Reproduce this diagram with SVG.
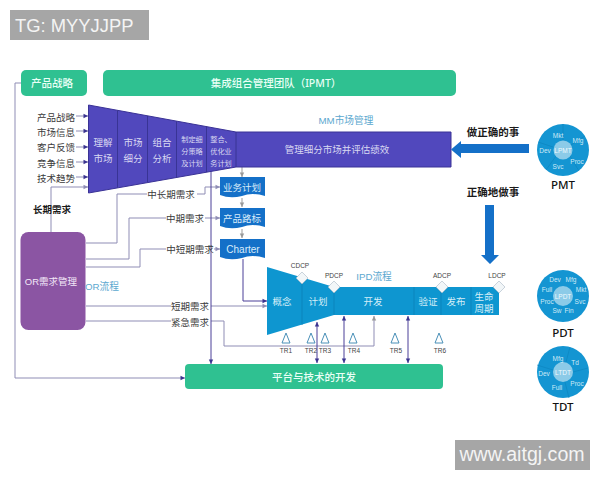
<svg xmlns="http://www.w3.org/2000/svg" width="600" height="480" viewBox="0 0 600 480">
<style>
text{font-family:"Liberation Sans","Noto Sans CJK SC",sans-serif;text-anchor:middle;dominant-baseline:central}
.g{fill:#2fc191}
.gt{fill:#eafff6;font-size:10.5px;font-weight:500;font-family:"Noto Sans","Noto Sans CJK SC",sans-serif}
.w{fill:#d9d9f2}
.l{fill:#3a3a3a;font-size:9.500px}
.w10{font-size:9.500px}.w8{font-size:7.200px}
.ib{fill:#d5eef8;font-size:9.500px}
.tk{fill:#444;font-size:6.500px}
.tp{fill:#5ba8cf;font-size:9.700px}
.c{fill:none;stroke:#8f8db5;stroke-width:1}
.d{fill:none;stroke:#4a3f98;stroke-width:1}
.gy{fill:none;stroke:#999;stroke-width:1}
.div{stroke:#33308a;stroke-width:.8}
.idiv{stroke:#0a80b8;stroke-width:.8}
.doc{fill:#1470c8}
.dt{fill:#d8ecfa;font-size:9.500px}
.dia{fill:#f2f6f8;stroke:#9ab;stroke-width:.5}
.tri{fill:#fff;stroke:#4a90b8;stroke-width:1}
.b{fill:#1a1a1a;font-size:10.500px;font-weight:700}
.wd{fill:#1470c8}
.disc{fill:#1495d2}
.inner{fill:#8ccbe8}
.seg{stroke:#0d85c0;stroke-width:.7}
.s{fill:#cfeaf7;font-size:6.500px}
.si{fill:#f0fafe;font-size:6.500px}
.team{fill:#111;font-size:11.500px;font-weight:500;font-family:"Noto Sans",sans-serif}
.wm{fill:#a6a6a6}
.wmt{fill:#f4f4f4;font-size:18px}
</style>
<defs>
<marker id="a" markerUnits="userSpaceOnUse" markerWidth="6" markerHeight="6" refX="5" refY="3" orient="auto-start-reverse"><path d="M0.500 0.800L5 3L0.500 5.200z" fill="#3b3490"/></marker>
<marker id="ag" markerUnits="userSpaceOnUse" markerWidth="6" markerHeight="6" refX="5" refY="3" orient="auto"><path d="M0.500 0.800L5 3L0.500 5.200z" fill="#8f8db5"/></marker>
<marker id="agy" markerUnits="userSpaceOnUse" markerWidth="6" markerHeight="6" refX="5" refY="3" orient="auto"><path d="M0.500 0.800L5 3L0.500 5.200z" fill="#999"/></marker>
</defs>
<g id="connectors">
<path class="c" d="M21 83H15V378H185" marker-end="url(#a)"/>
<path class="c" d="M76 116H88" marker-end="url(#a)"/>
<path class="c" d="M76 131H88" marker-end="url(#a)"/>
<path class="c" d="M76 147H88" marker-end="url(#a)"/>
<path class="c" d="M76 162H88" marker-end="url(#a)"/>
<path class="c" d="M76 177H88" marker-end="url(#a)"/>
<path class="c" d="M51 232V187H88" marker-end="url(#ag)"/>
<path class="c" d="M86 243H117V194H147M197 194H205V187H220" marker-end="url(#ag)"/>
<path class="c" d="M86 259H129V218H166M205 218H220" marker-end="url(#ag)"/>
<path class="c" d="M86 267H140V249H166M214 249H220" marker-end="url(#ag)"/>
<path class="c" d="M86 306H171M211 306H267" marker-end="url(#ag)"/>
<path class="c" d="M86 321H171M211 321H224V346H374V316" marker-end="url(#agy)"/>
<path class="d" d="M211 171V364" marker-end="url(#a)"/>
<path class="gy" d="M242 167V177" marker-end="url(#agy)"/>
<path class="gy" d="M242 198V207" marker-end="url(#agy)"/>
<path class="gy" d="M242 229V238" marker-end="url(#agy)"/>
<path class="d" d="M243 259V301H267" marker-end="url(#a)"/>
<path class="d" d="M317 363V322" marker-start="url(#a)" marker-end="url(#a)"/>
<path class="d" d="M344 363V316" marker-start="url(#a)" marker-end="url(#a)"/>
<path class="d" d="M408 363V316" marker-start="url(#a)" marker-end="url(#a)"/>
</g>
<g id="team-strategy"><rect class="g" x="21" y="70" width="66" height="26" rx="5"/><text class="gt" x="52" y="83">产品战略</text></g>
<g id="team-ipmt"><rect class="g" x="103" y="70" width="353" height="26" rx="5"/><text class="gt" x="276" y="83">集成组合管理团队（IPMT）</text></g>
<g id="inputs">
<text class="l" x="56" y="117">产品战略</text><text class="l" x="56" y="132">市场信息</text><text class="l" x="56" y="147">客户反馈</text><text class="l" x="56" y="163">竞争信息</text><text class="l" x="56" y="178">技术趋势</text>
<text class="b" style="font-size:9.500px" x="52" y="209">长期需求</text>
</g>
<g id="mm-funnel">
<path d="M88.500 105L236 132H451V167H236L88.500 193z" fill="#5148bd" stroke="#3a3296" stroke-width="1"/>
<path class="div" d="M117.500 110.500V187.500M147.500 116V182M176.500 121.500V177M206.500 126.500V172M236 132V167"/>
<text class="w w10" x="103" y="142">理解</text><text class="w w10" x="103" y="158">市场</text>
<text class="w w10" x="133" y="142">市场</text><text class="w w10" x="133" y="158">细分</text>
<text class="w w10" x="162" y="142">组合</text><text class="w w10" x="162" y="158">分析</text>
<text class="w w8" x="192" y="139">制定细</text><text class="w w8" x="192" y="151">分策略</text><text class="w w8" x="192" y="163">及计划</text>
<text class="w w8" x="221" y="139">整合、</text><text class="w w8" x="221" y="151">优化业</text><text class="w w8" x="221" y="163">务计划</text>
<text class="w w10" x="337" y="149">管理细分市场并评估绩效</text>
<text class="tp" x="346" y="120">MM市场管理</text>
</g>
<g id="demand-labels">
<text class="l" x="171" y="194">中长期需求</text><text class="l" x="185" y="218">中期需求</text><text class="l" x="190" y="249">中短期需求</text><text class="l" x="190" y="306">短期需求</text><text class="l" x="190" y="322">紧急需求</text>
</g>
<g id="doc-plan"><path class="doc" d="M220 177H265V196Q252 192 242 196Q230 199 220 195z"/><text class="dt" x="242" y="187">业务计划</text></g>
<g id="doc-road"><path class="doc" d="M220 208H265V227Q252 223 242 227Q230 230 220 226z"/><text class="dt" x="242" y="218">产品路标</text></g>
<g id="doc-charter"><path class="doc" d="M220 239H265V258Q252 254 242 258Q230 261 220 257z"/><text class="dt" style="font-size:10px" x="243" y="249">Charter</text></g>
<g id="or"><rect x="20.500" y="232" width="65" height="98" rx="8" fill="#8b55a3"/><text fill="#f3e8f8" font-size="9.500" x="51" y="281">OR需求管理</text><text class="tp" x="102" y="286">OR流程</text></g>
<g id="ipd">
<path d="M267 267L334 287H499V315H334L267 335z" fill="#0e96d0"/>
<path class="idiv" d="M302 277V325M334 287V315M414 287V315M441 287V315M471 287V315"/>
<text class="ib" x="282" y="301">概念</text><text class="ib" x="318" y="301">计划</text><text class="ib" x="373" y="301">开发</text><text class="ib" x="428" y="301">验证</text><text class="ib" x="456" y="301">发布</text><text class="ib" x="484" y="296">生命</text><text class="ib" x="484" y="308">周期</text>
<text class="tp" x="374" y="276">IPD流程</text>
<path class="dia" d="M302 272l6 6-6 6-6-6zM334 281l6 6-6 6-6-6zM442 281l6 6-6 6-6-6zM499 281l6 6-6 6-6-6z"/>
<text class="tk" x="300" y="265">CDCP</text><text class="tk" x="334" y="275">PDCP</text><text class="tk" x="442" y="275">ADCP</text><text class="tk" x="497" y="275">LDCP</text>
<path class="tri" d="M286 333l-4 10h8zM311 333l-4 10h8zM325 333l-4 10h8zM353 333l-4 10h8zM395 333l-4 10h8zM439 333l-4 10h8z"/>
<text class="tk" x="286" y="350">TR1</text><text class="tk" x="311" y="350">TR2</text><text class="tk" x="325" y="350">TR3</text><text class="tk" x="354" y="350">TR4</text><text class="tk" x="396" y="350">TR5</text><text class="tk" x="440" y="350">TR6</text>
</g>
<g id="platform"><rect class="g" x="185" y="364" width="258" height="25" rx="4"/><text class="gt" x="314" y="377">平台与技术的开发</text></g>
<g id="arrows">
<text class="b" x="493" y="132">做正确的事</text><text class="b" x="493" y="192">正确地做事</text>
<path class="wd" d="M529 144V153H461V158L451 149.500L461 141V144z"/>
<path class="wd" d="M485 205H494V255H499L490 264L481 255H485z"/>
</g>
<g id="pmt"><circle class="disc" cx="563" cy="150" r="26"/><path class="seg" d="M563 124V140M585 136L571 145M579 171L570 156M546 170L556 156M538 142L553 147"/><circle class="inner" cx="563" cy="150" r="9.500"/>
<text class="si" x="563" y="150">LPMT</text><text class="s" x="558" y="135">Mkt</text><text class="s" x="578" y="140">Mfg</text><text class="s" x="577" y="161">Proc</text><text class="s" x="558" y="166">Svc</text><text class="s" x="545" y="150">Dev</text><text class="team" x="563" y="184">PMT</text></g>
<g id="pdt"><circle class="disc" cx="563" cy="296" r="26"/><circle class="inner" cx="563" cy="296" r="10"/>
<text class="si" x="563" y="296">LPDT</text><text class="s" x="555" y="279">Dev</text><text class="s" x="571" y="279">Mfg</text><text class="s" x="547" y="289">Full</text><text class="s" x="581" y="289">Mkt</text><text class="s" x="547" y="301">Proc</text><text class="s" x="580" y="301">Svc</text><text class="s" x="557" y="310">Sw</text><text class="s" x="569" y="310">Fin</text><text class="team" x="563" y="332">PDT</text></g>
<g id="tdt"><circle class="disc" cx="563" cy="372" r="26"/><path class="seg" d="M570 347L566 362M588 368L573 372M569 398L565 382M537 365L553 370"/><circle class="inner" cx="563" cy="372" r="10"/>
<text class="si" x="563" y="372">LTDT</text><text class="s" x="558" y="358">Mfg</text><text class="s" x="575" y="362">Td</text><text class="s" x="544" y="373">Dev</text><text class="s" x="577" y="383">Proc</text><text class="s" x="557" y="387">Full</text><text class="team" x="563" y="406">TDT</text></g>
<g id="watermarks"><rect class="wm" x="10" y="10" width="139" height="30"/><text class="wmt" x="15" y="25" style="text-anchor:start;font-size:18.400px">TG: MYYJJPP</text><rect class="wm" x="455" y="440" width="135" height="30"/><text class="wmt" x="522" y="454" style="font-size:19.600px">www.aitgj.com</text></g>
</svg>
